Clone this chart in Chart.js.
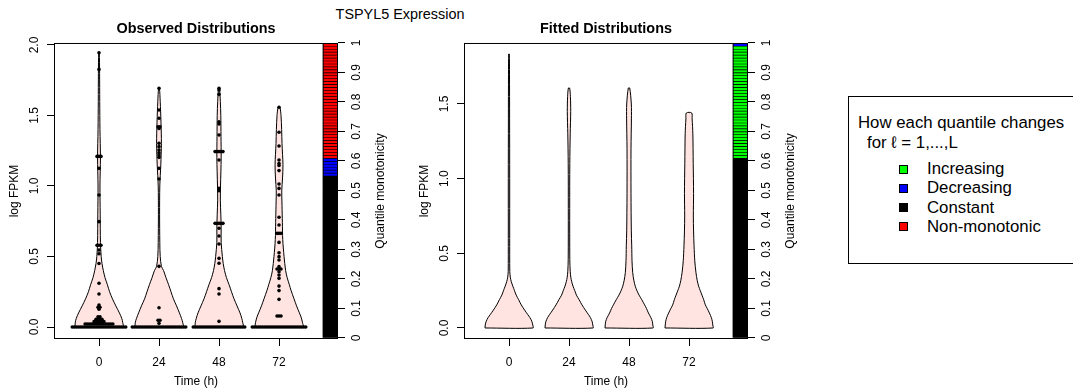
<!DOCTYPE html>
<html><head><meta charset="utf-8">
<script src="https://cdn.jsdelivr.net/npm/chart.js@4/dist/chart.umd.min.js"></script>
<style>
html,body{margin:0;padding:0;background:#fff;}
body{width:1073px;height:390px;overflow:hidden;position:relative;font-family:'Liberation Sans',Arial,Helvetica,sans-serif;color:#000;}
canvas{position:absolute;top:0;}
#mainTitle{position:absolute;left:300px;width:200px;top:5px;text-align:center;font-size:14.4px;line-height:18px;white-space:nowrap;}
#legend{position:absolute;left:848px;top:96px;width:240px;height:168px;border:1px solid #000;box-sizing:border-box;font-size:16.8px;}
#legend .lt{position:absolute;line-height:20px;white-space:nowrap;}
#legend .sw{position:absolute;width:9px;height:9px;border:1px solid #000;box-sizing:border-box;}
</style>
</head><body>
<div id="mainTitle">TSPYL5 Expression</div>
<canvas id="obs" width="392" height="390" style="left:0px"></canvas>
<canvas id="fit" width="392" height="390" style="left:410px"></canvas>
<div id="legend"></div>
<script>
// ---------------- data ----------------
const timeLabels = ['0', '24', '48', '72'];
const timePositions = [1, 2, 3, 4];
const obsYTicks = [0, 0.5, 1, 1.5, 2];
const fitYTicks = [0, 0.5, 1, 1.5];
const monoTicks = [0, 0.1, 0.2, 0.3, 0.4, 0.5, 0.6, 0.7, 0.8, 0.9, 1];

// violin outlines: [log FPKM level, relative density]
const obsViolin0 = [[0,1],[0.03,0.99],[0.06,0.95],[0.1,0.85],[0.15,0.70],[0.2,0.56],[0.25,0.44],[0.3,0.35],[0.35,0.25],[0.4,0.18],[0.45,0.125],[0.5,0.09],[0.6,0.06],[0.8,0.05],[1.0,0.04],[1.2,0.06],[1.4,0.04],[1.6,0.03],[1.8,0.025],[1.945,0.012]];
const obsViolin1 = [[0,1],[0.03,0.99],[0.06,0.94],[0.1,0.85],[0.15,0.73],[0.2,0.60],[0.25,0.50],[0.3,0.40],[0.35,0.29],[0.4,0.19],[0.43,0.10],[0.5,0.05],[0.6,0.033],[0.8,0.025],[1.0,0.033],[1.15,0.075],[1.3,0.10],[1.45,0.083],[1.6,0.05],[1.695,0.017]];
const obsViolin2 = [[0,1],[0.03,0.99],[0.06,0.95],[0.1,0.875],[0.15,0.75],[0.2,0.625],[0.25,0.52],[0.3,0.42],[0.35,0.31],[0.4,0.23],[0.45,0.175],[0.5,0.14],[0.6,0.09],[0.7,0.09],[0.8,0.075],[0.9,0.055],[1.0,0.063],[1.2,0.09],[1.35,0.083],[1.5,0.075],[1.6,0.055],[1.695,0.017]];
const obsViolin3 = [[0,1],[0.03,0.98],[0.07,0.92],[0.1,0.85],[0.15,0.73],[0.2,0.625],[0.26,0.50],[0.3,0.43],[0.35,0.34],[0.4,0.275],[0.5,0.21],[0.62,0.155],[0.74,0.14],[0.86,0.125],[0.97,0.115],[1.05,0.145],[1.15,0.165],[1.3,0.125],[1.4,0.11],[1.5,0.083],[1.56,0.033]];
const fitViolin0 = [[0,1],[0.02,0.99],[0.045,0.95],[0.07,0.87],[0.09,0.78],[0.12,0.65],[0.155,0.51],[0.19,0.40],[0.22,0.30],[0.25,0.23],[0.28,0.16],[0.31,0.096],[0.34,0.054],[0.38,0.033],[0.6,0.029],[1.0,0.029],[1.4,0.025],[1.7,0.021],[1.835,0.012]];
const fitViolin1 = [[0,1],[0.02,0.99],[0.045,0.96],[0.07,0.89],[0.09,0.81],[0.12,0.68],[0.155,0.54],[0.19,0.42],[0.22,0.31],[0.25,0.24],[0.28,0.167],[0.31,0.113],[0.34,0.075],[0.38,0.05],[0.46,0.033],[0.8,0.029],[1.1,0.033],[1.3,0.05],[1.45,0.071],[1.55,0.058],[1.607,0.025]];
const fitViolin2 = [[0,1],[0.02,0.99],[0.045,0.97],[0.07,0.91],[0.1,0.81],[0.13,0.73],[0.155,0.65],[0.19,0.53],[0.22,0.42],[0.25,0.33],[0.28,0.26],[0.32,0.20],[0.37,0.154],[0.45,0.125],[0.55,0.113],[0.65,0.096],[0.9,0.083],[1.2,0.083],[1.4,0.10],[1.5,0.096],[1.607,0.029]];
const fitViolin3 = [[0,1],[0.02,0.99],[0.045,0.97],[0.07,0.93],[0.1,0.85],[0.13,0.76],[0.155,0.68],[0.19,0.61],[0.22,0.54],[0.25,0.47],[0.28,0.40],[0.32,0.34],[0.37,0.29],[0.45,0.24],[0.55,0.21],[0.65,0.19],[0.75,0.18],[0.9,0.19],[1.1,0.175],[1.3,0.16],[1.4,0.13],[1.44,0.11]];

// observed cells: [log FPKM, number of cells at that value]
const obsPoints0 = [[0,28],[0.021,15],[0.038,6],[0.055,4],[0.073,2],[0.126,1],[0.14,2],[0.156,1],[0.234,1],[0.31,1],[0.45,1],[0.52,1],[0.546,1],[0.58,3],[0.747,1],[0.936,1],[1.125,1],[1.21,3],[1.827,1],[1.945,1]];
const obsPoints1 = [[0,28],[0.026,1],[0.048,2],[0.137,1],[0.43,1],[1.05,1],[1.125,1],[1.203,1],[1.219,1],[1.236,1],[1.255,1],[1.279,1],[1.303,1],[1.408,1],[1.42,2],[1.48,1],[1.539,1],[1.693,1]];
const obsPoints2 = [[0,27],[0.04,1],[0.234,1],[0.272,1],[0.452,1],[0.487,1],[0.589,1],[0.645,1],[0.70,1],[0.735,5],[0.967,1],[0.984,1],[1.184,1],[1.244,5],[1.362,1],[1.44,1],[1.456,1],[1.65,1],[1.681,1],[1.693,1]];
const obsPoints3 = [[0,28],[0.078,3],[0.196,1],[0.258,1],[0.29,1],[0.345,1],[0.369,1],[0.392,1],[0.411,3],[0.428,1],[0.475,1],[0.499,1],[0.527,1],[0.6,1],[0.664,3],[0.723,1],[0.778,1],[0.936,1],[0.983,1],[1.014,1],[1.109,1],[1.145,1],[1.16,1],[1.184,1],[1.284,1],[1.381,1],[1.558,1]];

// quantile monotonicity, one code per quantile (1..100): C constant, D decreasing, I increasing, N non-monotonic
const obsMonotonicity = "CCCCCCCCCC CCCCCCCCCC CCCCCCCCCC CCCCCCCCCC CCCCCCCCCC CCCCCDDDDD DNNNNNNNNN NNNNNNNNNN NNNNNNNNNN NNNNNNNNNN";
const fitMonotonicity = "CCCCCCCCCC CCCCCCCCCC CCCCCCCCCC CCCCCCCCCC CCCCCCCCCC CCCCCCCCCC CIIIIIIIII IIIIIIIIII IIIIIIIIII IIIIIIIIID";

const legendLabels = ['Increasing', 'Decreasing', 'Constant', 'Non-monotonic'];
const legendCodes = ['I', 'D', 'C', 'N'];

// ---------------- styling / layout ----------------
const monoColors = { I: '#00FF00', D: '#0000FF', C: '#000000', N: '#FF0000' };
const violinFill = '#FFE4E1';
const violinHalfWidth = 0.4;   // x-axis units at relative density 1
const stackStep = 0.033;       // horizontal offset between stacked points
const barX = 4.858;            // x position of the monotonicity column

Chart.defaults.font.family = "'Liberation Sans', Arial, Helvetica, sans-serif";
Chart.defaults.font.size = 12;
Chart.defaults.color = '#000';

const boxPlugin = {
  id: 'boxPlugin',
  afterDatasetsDraw(chart) {
    const a = chart.chartArea, ctx = chart.ctx;
    ctx.save();
    ctx.strokeStyle = '#000';
    ctx.lineWidth = 1;
    ctx.strokeRect(a.left + 0.5, a.top + 0.5, a.right - a.left - 1, a.bottom - a.top - 1);
    ctx.restore();
  }
};
const rightTitlePlugin = {
  id: 'rightTitle',
  afterDraw(chart) {
    const s = chart.scales.y2, ctx = chart.ctx;
    ctx.save();
    ctx.translate(s.right - 11, (s.top + s.bottom) / 2);
    ctx.rotate(-Math.PI / 2);
    ctx.font = "12px 'Liberation Sans', Arial, sans-serif";
    ctx.fillStyle = '#000';
    ctx.textAlign = 'center';
    ctx.textBaseline = 'middle';
    ctx.fillText('Quantile monotonicity', 0, 0);
    ctx.restore();
  }
};

function makePanel(id, title, violins, points, mono, yMin, yMax, yTicks) {
  const datasets = [];
  (points || []).forEach((pts, i) => {
    const data = [];
    pts.forEach(([v, n]) => {
      for (let k = 0; k < n; k++) data.push({ x: timePositions[i] + (k - (n - 1) / 2) * stackStep, y: v });
    });
    datasets.push({ type: 'scatter', data, yAxisID: 'y', pointRadius: 1.8, pointBackgroundColor: '#000',
      pointBorderWidth: 0, pointHoverRadius: 1.8, showLine: false, order: 0 });
  });
  violins.forEach((vio, i) => {
    const p = timePositions[i];
    const left = vio.map(([y, d]) => ({ x: p - d * violinHalfWidth, y }));
    const right = vio.slice().reverse().map(([y, d]) => ({ x: p + d * violinHalfWidth, y }));
    const data = left.concat(right, [left[0]]);
    datasets.push({ type: 'line', data, yAxisID: 'y', borderColor: '#000', borderWidth: 1,
      backgroundColor: violinFill, fill: 'shape', pointRadius: 0, pointHoverRadius: 0, tension: 0.3, order: 1 });
  });
  const codes = mono.replace(/\s/g, '').split('');
  datasets.push({
    type: 'bar', yAxisID: 'y2',
    data: codes.map((c, k) => ({ x: barX, y: [k / codes.length, (k + 1) / codes.length] })),
    backgroundColor: codes.map(c => monoColors[c]),
    borderColor: '#000', borderWidth: { top: 1, right: 1, bottom: 0, left: 1 }, borderSkipped: false,
    barThickness: 15, grouped: false, order: 2
  });
  // black backing column under the quantile stripes
  datasets.push({
    type: 'bar', yAxisID: 'y2',
    data: [{ x: barX, y: [0, 1] }],
    backgroundColor: '#000', borderWidth: 0, barThickness: 15, grouped: false, order: 3
  });

  const tickGrid = { display: true, drawOnChartArea: false, drawTicks: true, tickLength: 7, color: '#000', lineWidth: 1 };
  return new Chart(document.getElementById(id), {
    type: 'scatter',
    data: { datasets },
    options: {
      responsive: false, animation: false, devicePixelRatio: 1,
      layout: { padding: 0 },
      plugins: {
        legend: { display: false }, tooltip: { enabled: false },
        title: { display: true, text: title, color: '#000', font: { size: 14.4, weight: 'bold' }, padding: { top: 20.6, bottom: 5.1 } }
      },
      scales: {
        x: {
          type: 'linear', min: 0.25, max: 4.983, offset: false,
          grid: Object.assign({ offset: false }, tickGrid), border: { display: false },
          afterBuildTicks: s => { s.ticks = timePositions.map(v => ({ value: v })); },
          afterFit: s => { s.height = 51; },
          ticks: { autoSkip: false, maxRotation: 0, padding: 9, color: '#000', callback: (v, i) => timeLabels[i] },
          title: { display: true, text: 'Time (h)', color: '#000', padding: { top: 0, bottom: 0.8 } }
        },
        y: {
          type: 'linear', position: 'left', min: yMin, max: yMax,
          grid: tickGrid, border: { display: false },
          afterBuildTicks: s => { s.ticks = yTicks.map(v => ({ value: v })); },
          afterFit: s => { s.width = 54; },
          ticks: { autoSkip: false, minRotation: 90, maxRotation: 90, crossAlign: 'center', padding: 3.6, color: '#000',
            callback: v => Number(v).toFixed(1) },
          title: { display: true, text: 'log FPKM', color: '#000', padding: { top: 7.8, bottom: 0 } }
        },
        y2: {
          type: 'linear', position: 'right', min: -0.0034, max: 1.0,
          grid: tickGrid, border: { display: false },
          afterBuildTicks: s => { s.ticks = monoTicks.map(v => ({ value: v })); },
          afterFit: s => { s.width = 54; },
          ticks: { autoSkip: false, minRotation: 90, maxRotation: 90, crossAlign: 'center', padding: 3.6, color: '#000',
            callback: v => String(v) }
        }
      }
    },
    plugins: [boxPlugin, rightTitlePlugin]
  });
}

makePanel('obs', 'Observed Distributions', [obsViolin0, obsViolin1, obsViolin2, obsViolin3],
  [obsPoints0, obsPoints1, obsPoints2, obsPoints3], obsMonotonicity, -0.0851, 2.0142, obsYTicks);
makePanel('fit', 'Fitted Distributions', [fitViolin0, fitViolin1, fitViolin2, fitViolin3],
  null, fitMonotonicity, -0.0737, 1.9085, fitYTicks);

// legend
const lg = document.getElementById('legend');
function addText(txt, top, left) {
  const d = document.createElement('div');
  d.className = 'lt'; d.textContent = txt; d.style.top = top + 'px'; d.style.left = left + 'px';
  lg.appendChild(d);
}
addText('How each quantile changes', 15.7, 9);
addText('for \u2113 = 1,...,L', 35.7, 18);
legendLabels.forEach((lab, i) => {
  const top = 62 + i * 19.3;
  addText(lab, top, 78);
  const sw = document.createElement('div');
  sw.className = 'sw';
  sw.style.top = (top + 5.5) + 'px';
  sw.style.left = '50px';
  sw.style.background = monoColors[legendCodes[i]];
  lg.appendChild(sw);
});
</script>
</body></html>
